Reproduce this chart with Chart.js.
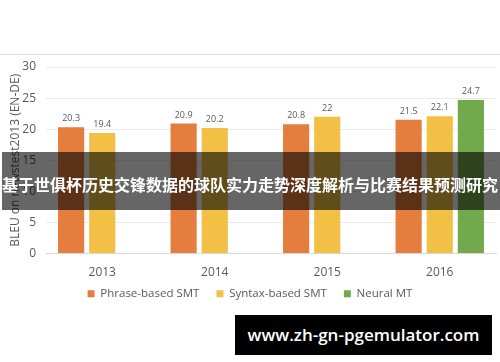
<!DOCTYPE html>
<html><head><meta charset="utf-8">
<script src="https://cdn.jsdelivr.net/npm/chart.js@4"></script>
<style>
html,body{margin:0;padding:0;background:#fff;}
#wrap{position:relative;width:500px;height:362px;overflow:hidden;}
#topline{position:absolute;left:0;top:54px;width:500px;height:1px;background:#dcdcdc;}
#banner{position:absolute;left:2px;top:152px;width:498px;height:58px;background:rgba(0,0,0,0.6);}
#bannerText{position:absolute;left:0;top:171px;width:500px;text-align:center;color:#fff;font-family:"Noto Sans CJK SC";font-weight:bold;font-size:16px;letter-spacing:0;line-height:26px;white-space:nowrap;}
#site{position:absolute;left:235px;top:315px;width:257px;height:40px;background:#000;color:#fff;font-family:"Open Sans";font-weight:600;font-size:17px;line-height:40px;text-align:center;}
</style></head>
<body><div id="wrap">
<canvas id="c" width="500" height="362"></canvas>
<div id="topline"></div>
<div id="banner"></div>
<div id="bannerText">基于世俱杯历史交锋数据的球队实力走势深度解析与比赛结果预测研究</div>
<div id="site">www.zh-gn-pgemulator.com</div>
</div>
<script>
const categories = ["2013", "2014", "2015", "2016"];
const phraseSMT = [20.3, 20.9, 20.8, 21.5];
const syntaxSMT = [19.4, 20.2, 22, 22.1];
const neuralMT = [null, null, null, 24.7];
const seriesNames = ["Phrase-based SMT", "Syntax-based SMT", "Neural MT"];
const yTicks = [0, 5, 10, 15, 20, 25, 30];

const valueLabels = {
  id:'valueLabels',
  afterDatasetsDraw(chart){
    const ctx=chart.ctx;
    ctx.save();
    ctx.font='9px "Open Sans"';
    ctx.fillStyle='#595959';
    ctx.textAlign='center';
    ctx.textBaseline='bottom';
    chart.data.datasets.forEach((ds,i)=>{
      const meta=chart.getDatasetMeta(i);
      meta.data.forEach((bar,j)=>{
        const v=ds.data[j];
        if(v===null||v===undefined) return;
        ctx.fillText(String(v), bar.x, bar.y-4);
      });
    });
    ctx.restore();
  }
};

const legendShift = {
  id:'legendShift',
  afterLayout(chart){
    if(chart.legend){ chart.legend.top -= 13; chart.legend.bottom -= 13; }
  }
};

new Chart(document.getElementById('c'),{
  type:'bar',
  data:{
    labels:categories,
    datasets:[
      {label:seriesNames[0],data:phraseSMT,backgroundColor:'#E47D3E'},
      {label:seriesNames[1],data:syntaxSMT,backgroundColor:'#F1C045'},
      {label:seriesNames[2],data:neuralMT,backgroundColor:'#72A94D'}
    ]
  },
  options:{
    responsive:false,
    animation:false,
    devicePixelRatio:1,
    layout:{padding:{top:67,bottom:39.5,right:4,left:4}},
    datasets:{bar:{categoryPercentage:0.83,barPercentage:0.84,skipNull:false}},
    plugins:{
      legend:{position:'bottom',labels:{boxWidth:7,boxHeight:7,padding:17,color:'#595959',font:{family:'Open Sans',size:11.5}}},
      tooltip:{enabled:false}
    },
    scales:{
      x:{
        grid:{display:false},
        border:{display:true,color:'#d9d9d9'},
        ticks:{color:'#595959',font:{family:'Open Sans',size:12},padding:4}
      },
      y:{
        min:0,max:30,
        afterBuildTicks(axis){axis.ticks=yTicks.map(v=>({value:v}));},
        afterFit(axis){axis.width=42;},
        grid:{color:'#ebebeb',drawTicks:false},
        border:{display:false},
        ticks:{color:'#595959',font:{family:'Open Sans',size:12},padding:10},
        title:{display:true,text:'BLEU on newstest2013 (EN-DE)',color:'#595959',font:{family:'Open Sans',size:12},padding:{top:4,bottom:0}}
      }
    }
  },
  plugins:[valueLabels, legendShift]
});
</script>
</body></html>
